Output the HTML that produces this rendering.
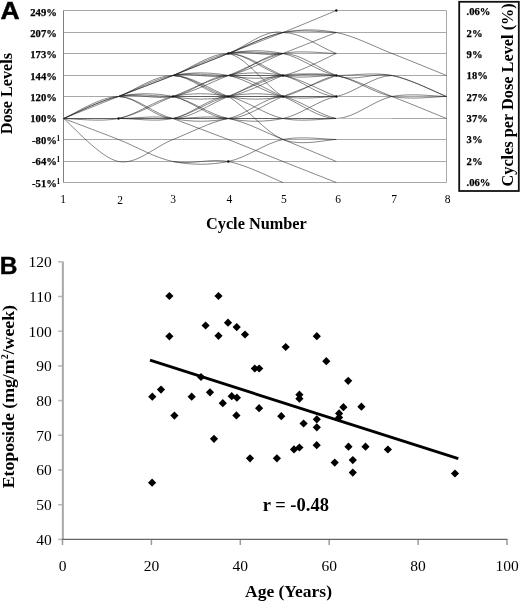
<!DOCTYPE html>
<html><head><meta charset="utf-8"><style>
html,body{margin:0;padding:0;background:#fff;}
body{width:520px;height:602px;overflow:hidden;position:relative;}
svg{position:absolute;left:0;top:0;will-change:transform;}
</style></head><body>
<svg width="520" height="602" viewBox="0 0 520 602">
<rect width="520" height="602" fill="#fff"/>
<line x1="63.5" y1="10.5" x2="446.5" y2="10.5" stroke="#a8a8a8" stroke-width="1"/>
<line x1="63.5" y1="32.5" x2="446.5" y2="32.5" stroke="#a8a8a8" stroke-width="1"/>
<line x1="63.5" y1="53.5" x2="446.5" y2="53.5" stroke="#a8a8a8" stroke-width="1"/>
<line x1="63.5" y1="75.5" x2="446.5" y2="75.5" stroke="#a8a8a8" stroke-width="1"/>
<line x1="63.5" y1="96.5" x2="446.5" y2="96.5" stroke="#a8a8a8" stroke-width="1"/>
<line x1="63.5" y1="118.5" x2="446.5" y2="118.5" stroke="#a8a8a8" stroke-width="1"/>
<line x1="63.5" y1="139.5" x2="446.5" y2="139.5" stroke="#a8a8a8" stroke-width="1"/>
<line x1="63.5" y1="161.5" x2="446.5" y2="161.5" stroke="#a8a8a8" stroke-width="1"/>
<line x1="63.5" y1="182.5" x2="446.5" y2="182.5" stroke="#a8a8a8" stroke-width="1"/>
<line x1="63.5" y1="10.5" x2="63.5" y2="182.5" stroke="#808080" stroke-width="1"/>
<line x1="446.5" y1="10.5" x2="446.5" y2="182.5" stroke="#a8a8a8" stroke-width="1"/>
<path d="M63.50 118.50 C72.67 114.83 100.25 103.67 118.50 96.50 M63.50 118.50 C72.67 114.83 100.25 100.17 118.50 96.50 M63.50 118.50 C72.67 114.83 100.25 100.17 118.50 96.50 M63.50 118.50 C72.67 114.83 100.25 96.50 118.50 96.50 M63.50 118.50 C72.67 118.50 100.25 122.17 118.50 118.50 M63.50 118.50 C72.67 118.50 100.25 118.50 118.50 118.50 M63.50 118.50 C72.67 122.00 100.25 132.33 118.50 139.50 M63.50 118.50 C72.67 125.67 100.25 158.00 118.50 161.50 M118.50 96.50 C136.75 89.33 154.70 82.67 173.00 75.50 M118.50 96.50 C136.75 89.33 154.70 82.67 173.00 75.50 M118.50 96.50 C136.75 89.33 154.70 79.00 173.00 75.50 M118.50 96.50 C136.75 89.33 154.70 75.50 173.00 75.50 M118.50 96.50 C136.75 92.83 154.70 100.00 173.00 96.50 M118.50 96.50 C136.75 92.83 154.70 96.50 173.00 96.50 M118.50 96.50 C136.75 92.83 154.70 92.83 173.00 96.50 M118.50 96.50 C136.75 96.50 154.70 118.50 173.00 118.50 M118.50 96.50 C136.75 96.50 154.70 114.83 173.00 118.50 M118.50 118.50 C136.75 114.83 154.70 103.67 173.00 96.50 M118.50 118.50 C136.75 114.83 154.70 100.17 173.00 96.50 M118.50 118.50 C136.75 118.50 154.70 122.17 173.00 118.50 M118.50 118.50 C136.75 118.50 154.70 118.50 173.00 118.50 M118.50 118.50 C136.75 118.50 154.70 115.00 173.00 118.50 M118.50 139.50 C136.75 146.67 154.70 157.83 173.00 161.50 M118.50 161.50 C136.75 165.00 154.70 146.67 173.00 139.50 M173.00 75.50 C191.30 68.33 209.97 60.67 228.30 53.50 M173.00 75.50 C191.30 68.33 209.97 60.67 228.30 53.50 M173.00 75.50 C191.30 68.33 209.97 57.17 228.30 53.50 M173.00 75.50 C191.30 68.33 209.97 53.50 228.30 53.50 M173.00 75.50 C191.30 72.00 209.97 79.17 228.30 75.50 M173.00 75.50 C191.30 72.00 209.97 75.50 228.30 75.50 M173.00 75.50 C191.30 72.00 209.97 72.00 228.30 75.50 M173.00 75.50 C191.30 75.50 209.97 96.50 228.30 96.50 M173.00 75.50 C191.30 75.50 209.97 93.00 228.30 96.50 M173.00 75.50 C191.30 75.50 209.97 89.33 228.30 96.50 M173.00 96.50 C191.30 93.00 209.97 82.67 228.30 75.50 M173.00 96.50 C191.30 89.33 209.97 79.00 228.30 75.50 M173.00 96.50 C191.30 93.00 209.97 75.50 228.30 75.50 M173.00 96.50 C191.30 100.00 209.97 100.00 228.30 96.50 M173.00 96.50 C191.30 96.50 209.97 96.50 228.30 96.50 M173.00 96.50 C191.30 92.83 209.97 92.83 228.30 96.50 M173.00 96.50 C191.30 100.17 209.97 118.50 228.30 118.50 M173.00 96.50 C191.30 100.17 209.97 114.83 228.30 118.50 M173.00 118.50 C191.30 118.50 209.97 103.67 228.30 96.50 M173.00 118.50 C191.30 114.83 209.97 100.17 228.30 96.50 M173.00 118.50 C191.30 114.83 209.97 96.50 228.30 96.50 M173.00 118.50 C191.30 122.17 209.97 122.17 228.30 118.50 M173.00 118.50 C191.30 118.50 209.97 118.50 228.30 118.50 M173.00 118.50 C191.30 118.50 209.97 115.00 228.30 118.50 M173.00 118.50 C191.30 125.67 209.97 132.33 228.30 139.50 M173.00 139.50 C191.30 132.33 209.97 122.00 228.30 118.50 M173.00 161.50 C191.30 165.17 209.97 165.17 228.30 161.50 M173.00 161.50 C191.30 165.17 209.97 158.00 228.30 161.50 M228.30 53.50 C246.63 46.33 265.00 39.67 283.00 32.50 M228.30 53.50 C246.63 46.33 265.00 36.00 283.00 32.50 M228.30 53.50 C246.63 46.33 265.00 36.00 283.00 32.50 M228.30 53.50 C246.63 46.33 265.00 28.83 283.00 32.50 M228.30 53.50 C246.63 49.83 265.00 57.00 283.00 53.50 M228.30 53.50 C246.63 49.83 265.00 53.50 283.00 53.50 M228.30 53.50 C246.63 49.83 265.00 49.83 283.00 53.50 M228.30 53.50 C246.63 53.50 265.00 71.83 283.00 75.50 M228.30 53.50 C246.63 53.50 265.00 68.33 283.00 75.50 M228.30 53.50 C246.63 57.00 265.00 85.67 283.00 96.50 M228.30 75.50 C246.63 71.83 265.00 60.67 283.00 53.50 M228.30 75.50 C246.63 68.33 265.00 57.17 283.00 53.50 M228.30 75.50 C246.63 71.83 265.00 53.50 283.00 53.50 M228.30 75.50 C246.63 79.17 265.00 79.17 283.00 75.50 M228.30 75.50 C246.63 75.50 265.00 75.50 283.00 75.50 M228.30 75.50 C246.63 72.00 265.00 72.00 283.00 75.50 M228.30 75.50 C246.63 79.00 265.00 93.00 283.00 96.50 M228.30 75.50 C246.63 75.50 265.00 89.33 283.00 96.50 M228.30 96.50 C246.63 93.00 265.00 82.67 283.00 75.50 M228.30 96.50 C246.63 89.33 265.00 79.00 283.00 75.50 M228.30 96.50 C246.63 89.33 265.00 75.50 283.00 75.50 M228.30 96.50 C246.63 100.00 265.00 100.00 283.00 96.50 M228.30 96.50 C246.63 96.50 265.00 96.50 283.00 96.50 M228.30 96.50 C246.63 92.83 265.00 92.83 283.00 96.50 M228.30 96.50 C246.63 100.17 265.00 114.83 283.00 118.50 M228.30 96.50 C246.63 107.17 265.00 132.33 283.00 139.50 M228.30 118.50 C246.63 118.50 265.00 103.67 283.00 96.50 M228.30 118.50 C246.63 114.83 265.00 96.50 283.00 96.50 M228.30 118.50 C246.63 122.17 265.00 122.17 283.00 118.50 M228.30 118.50 C246.63 118.50 265.00 118.50 283.00 118.50 M228.30 118.50 C246.63 122.00 265.00 132.33 283.00 139.50 M228.30 139.50 C246.63 146.67 265.00 154.33 283.00 161.50 M228.30 161.50 C246.63 157.83 265.00 143.17 283.00 139.50 M228.30 161.50 C246.63 165.00 273.88 179.00 283.00 182.50 M283.00 32.50 C301.00 25.33 327.42 14.17 336.30 10.50 M283.00 32.50 C301.00 29.00 318.13 29.00 336.30 32.50 M283.00 32.50 C301.00 29.00 327.42 32.50 336.30 32.50 M283.00 32.50 C301.00 32.50 318.13 46.33 336.30 53.50 M283.00 53.50 C301.00 46.33 327.42 36.00 336.30 32.50 M283.00 53.50 C301.00 49.83 327.42 53.50 336.30 53.50 M283.00 53.50 C301.00 57.17 318.13 71.83 336.30 75.50 M283.00 53.50 C301.00 53.50 318.13 68.33 336.30 75.50 M283.00 75.50 C301.00 71.83 327.42 57.17 336.30 53.50 M283.00 75.50 C301.00 79.17 318.13 75.50 336.30 75.50 M283.00 75.50 C301.00 75.50 318.13 72.00 336.30 75.50 M283.00 75.50 C301.00 72.00 327.42 75.50 336.30 75.50 M283.00 75.50 C301.00 79.00 318.13 96.50 336.30 96.50 M283.00 75.50 C301.00 79.00 318.13 89.33 336.30 96.50 M283.00 96.50 C301.00 93.00 318.13 79.00 336.30 75.50 M283.00 96.50 C301.00 89.33 327.42 79.00 336.30 75.50 M283.00 96.50 C301.00 100.00 327.42 96.50 336.30 96.50 M283.00 96.50 C301.00 96.50 327.42 96.50 336.30 96.50 M283.00 96.50 C301.00 103.67 318.13 118.50 336.30 118.50 M283.00 96.50 C301.00 100.17 318.13 114.83 336.30 118.50 M283.00 118.50 C301.00 114.83 318.13 100.17 336.30 96.50 M283.00 118.50 C301.00 122.17 327.42 118.50 336.30 118.50 M283.00 118.50 C301.00 118.50 327.42 118.50 336.30 118.50 M283.00 139.50 C301.00 146.67 327.42 139.50 336.30 139.50 M283.00 139.50 C301.00 135.83 327.42 139.50 336.30 139.50 M283.00 139.50 C301.00 146.67 327.42 157.83 336.30 161.50 M283.00 161.50 C301.00 168.67 327.42 179.00 336.30 182.50 M336.30 32.50 C354.47 36.00 373.63 46.33 392.00 53.50 M336.30 75.50 C354.47 82.67 373.63 72.00 392.00 75.50 M336.30 75.50 C354.47 75.50 373.63 72.00 392.00 75.50 M336.30 75.50 C354.47 79.00 373.63 93.00 392.00 96.50 M336.30 75.50 C354.47 79.00 373.63 89.33 392.00 96.50 M336.30 96.50 C354.47 93.00 373.63 75.50 392.00 75.50 M336.30 118.50 C354.47 118.50 373.63 100.17 392.00 96.50 M392.00 53.50 C410.37 60.67 437.42 71.83 446.50 75.50 M392.00 75.50 C410.37 79.00 437.42 93.00 446.50 96.50 M392.00 75.50 C410.37 79.00 437.42 93.00 446.50 96.50 M392.00 96.50 C410.37 100.00 437.42 96.50 446.50 96.50 M392.00 96.50 C410.37 92.83 437.42 96.50 446.50 96.50 M392.00 96.50 C410.37 103.67 437.42 114.83 446.50 118.50" fill="none" stroke="#222" stroke-width="0.55"/>
<line x1="336.3" y1="118.5" x2="392.0" y2="118.5" stroke="#bbb" stroke-width="1.2"/>
<circle cx="118.5" cy="118.5" r="1.2" fill="#111"/>
<circle cx="173.0" cy="96.5" r="1.2" fill="#111"/>
<circle cx="228.3" cy="53.5" r="1.2" fill="#111"/>
<circle cx="228.3" cy="96.5" r="1.2" fill="#111"/>
<circle cx="228.3" cy="161.5" r="1.2" fill="#111"/>
<circle cx="283.0" cy="75.5" r="1.2" fill="#111"/>
<circle cx="283.0" cy="96.5" r="1.2" fill="#111"/>
<circle cx="336.3" cy="10.5" r="1.2" fill="#111"/>
<circle cx="336.3" cy="75.5" r="1.2" fill="#111"/>
<circle cx="336.3" cy="96.5" r="1.2" fill="#111"/>
<text x="56.8" y="16.0" text-anchor="end" font-family='"Liberation Serif", serif' font-weight="bold" font-size="10.6" stroke="#000" stroke-width="0.25">249%</text>
<text x="56.8" y="36.7" text-anchor="end" font-family='"Liberation Serif", serif' font-weight="bold" font-size="10.6" stroke="#000" stroke-width="0.25">207%</text>
<text x="56.8" y="58.4" text-anchor="end" font-family='"Liberation Serif", serif' font-weight="bold" font-size="10.6" stroke="#000" stroke-width="0.25">173%</text>
<text x="56.8" y="79.9" text-anchor="end" font-family='"Liberation Serif", serif' font-weight="bold" font-size="10.6" stroke="#000" stroke-width="0.25">144%</text>
<text x="56.8" y="100.5" text-anchor="end" font-family='"Liberation Serif", serif' font-weight="bold" font-size="10.6" stroke="#000" stroke-width="0.25">120%</text>
<text x="56.8" y="122.4" text-anchor="end" font-family='"Liberation Serif", serif' font-weight="bold" font-size="10.6" stroke="#000" stroke-width="0.25">100%</text>
<text x="56.8" y="144.2" text-anchor="end" font-family='"Liberation Serif", serif' font-weight="bold" font-size="10.6" stroke="#000" stroke-width="0.25">-80%</text>
<text x="56.6" y="141.0" font-family='"Liberation Serif", serif' font-weight="bold" font-size="7.2">1</text>
<text x="56.8" y="165.2" text-anchor="end" font-family='"Liberation Serif", serif' font-weight="bold" font-size="10.6" stroke="#000" stroke-width="0.25">-64%</text>
<text x="56.6" y="162.0" font-family='"Liberation Serif", serif' font-weight="bold" font-size="7.2">1</text>
<text x="56.8" y="186.7" text-anchor="end" font-family='"Liberation Serif", serif' font-weight="bold" font-size="10.6" stroke="#000" stroke-width="0.25">-51%</text>
<text x="56.6" y="183.5" font-family='"Liberation Serif", serif' font-weight="bold" font-size="7.2">1</text>
<text x="63.2" y="202.6" text-anchor="middle" font-family='"Liberation Serif", serif' font-size="11.5">1</text>
<text x="120" y="204.2" text-anchor="middle" font-family='"Liberation Serif", serif' font-size="11.5">2</text>
<text x="173.2" y="202.6" text-anchor="middle" font-family='"Liberation Serif", serif' font-size="11.5">3</text>
<text x="229.3" y="202.6" text-anchor="middle" font-family='"Liberation Serif", serif' font-size="11.5">4</text>
<text x="283.8" y="202.6" text-anchor="middle" font-family='"Liberation Serif", serif' font-size="11.5">5</text>
<text x="338.1" y="202.6" text-anchor="middle" font-family='"Liberation Serif", serif' font-size="11.5">6</text>
<text x="394.2" y="202.6" text-anchor="middle" font-family='"Liberation Serif", serif' font-size="11.5">7</text>
<text x="447.5" y="202.6" text-anchor="middle" font-family='"Liberation Serif", serif' font-size="11.5">8</text>
<text x="206" y="228.7" font-family='"Liberation Serif", serif' font-weight="bold" font-size="16.3">Cycle Number</text>
<text transform="translate(12.1 134.3) rotate(-90)" font-family='"Liberation Serif", serif' font-weight="bold" font-size="16.2">Dose Levels</text>
<text transform="translate(0.6 18.7) scale(1.08 1)" font-family='"Liberation Sans", sans-serif' font-weight="bold" font-size="24.5" stroke="#000" stroke-width="0.5">A</text>
<rect x="459.2" y="1.8" width="59.6" height="189.2" fill="none" stroke="#111" stroke-width="1.8"/>
<text x="466.6" y="15.2" font-family='"Liberation Serif", serif' font-weight="bold" font-size="10.6" stroke="#000" stroke-width="0.25">.06%</text>
<text x="466.6" y="36.6" font-family='"Liberation Serif", serif' font-weight="bold" font-size="10.6" stroke="#000" stroke-width="0.25">2%</text>
<text x="466.6" y="57.9" font-family='"Liberation Serif", serif' font-weight="bold" font-size="10.6" stroke="#000" stroke-width="0.25">9%</text>
<text x="466.6" y="79.3" font-family='"Liberation Serif", serif' font-weight="bold" font-size="10.6" stroke="#000" stroke-width="0.25">18%</text>
<text x="466.6" y="100.6" font-family='"Liberation Serif", serif' font-weight="bold" font-size="10.6" stroke="#000" stroke-width="0.25">27%</text>
<text x="466.6" y="122.0" font-family='"Liberation Serif", serif' font-weight="bold" font-size="10.6" stroke="#000" stroke-width="0.25">37%</text>
<text x="466.6" y="143.4" font-family='"Liberation Serif", serif' font-weight="bold" font-size="10.6" stroke="#000" stroke-width="0.25">3%</text>
<text x="466.6" y="164.7" font-family='"Liberation Serif", serif' font-weight="bold" font-size="10.6" stroke="#000" stroke-width="0.25">2%</text>
<text x="466.6" y="186.1" font-family='"Liberation Serif", serif' font-weight="bold" font-size="10.6" stroke="#000" stroke-width="0.25">.06%</text>
<text transform="translate(512.6 186.5) rotate(-90)" font-family='"Liberation Serif", serif' font-weight="bold" font-size="16.3">Cycles per Dose Level (%)</text>
<line x1="62.85" y1="261.5" x2="62.85" y2="539.4" stroke="#a8a8a8" stroke-width="2"/>
<line x1="61.8" y1="539.4" x2="507.6" y2="539.4" stroke="#666" stroke-width="1.4"/>
<line x1="58.2" y1="539.4" x2="62" y2="539.4" stroke="#b5b5b5" stroke-width="1.5"/>
<text x="51.8" y="544.7" text-anchor="end" font-family='"Liberation Serif", serif' font-size="15.5">40</text>
<line x1="58.2" y1="504.7" x2="62" y2="504.7" stroke="#b5b5b5" stroke-width="1.5"/>
<text x="51.8" y="510.0" text-anchor="end" font-family='"Liberation Serif", serif' font-size="15.5">50</text>
<line x1="58.2" y1="470.0" x2="62" y2="470.0" stroke="#b5b5b5" stroke-width="1.5"/>
<text x="51.8" y="475.3" text-anchor="end" font-family='"Liberation Serif", serif' font-size="15.5">60</text>
<line x1="58.2" y1="435.3" x2="62" y2="435.3" stroke="#b5b5b5" stroke-width="1.5"/>
<text x="51.8" y="440.6" text-anchor="end" font-family='"Liberation Serif", serif' font-size="15.5">70</text>
<line x1="58.2" y1="400.6" x2="62" y2="400.6" stroke="#b5b5b5" stroke-width="1.5"/>
<text x="51.8" y="405.9" text-anchor="end" font-family='"Liberation Serif", serif' font-size="15.5">80</text>
<line x1="58.2" y1="365.9" x2="62" y2="365.9" stroke="#b5b5b5" stroke-width="1.5"/>
<text x="51.8" y="371.2" text-anchor="end" font-family='"Liberation Serif", serif' font-size="15.5">90</text>
<line x1="58.2" y1="331.2" x2="62" y2="331.2" stroke="#b5b5b5" stroke-width="1.5"/>
<text x="51.8" y="336.5" text-anchor="end" font-family='"Liberation Serif", serif' font-size="15.5">100</text>
<line x1="58.2" y1="296.5" x2="62" y2="296.5" stroke="#b5b5b5" stroke-width="1.5"/>
<text x="51.8" y="301.8" text-anchor="end" font-family='"Liberation Serif", serif' font-size="15.5">110</text>
<line x1="58.2" y1="261.8" x2="62" y2="261.8" stroke="#b5b5b5" stroke-width="1.5"/>
<text x="51.8" y="267.1" text-anchor="end" font-family='"Liberation Serif", serif' font-size="15.5">120</text>
<line x1="62.5" y1="540.1" x2="62.5" y2="545" stroke="#999" stroke-width="1.5"/>
<text x="62.5" y="570.6" text-anchor="middle" font-family='"Liberation Serif", serif' font-size="15.5">0</text>
<line x1="151.4" y1="540.1" x2="151.4" y2="545" stroke="#999" stroke-width="1.5"/>
<text x="151.4" y="570.6" text-anchor="middle" font-family='"Liberation Serif", serif' font-size="15.5">20</text>
<line x1="240.3" y1="540.1" x2="240.3" y2="545" stroke="#999" stroke-width="1.5"/>
<text x="240.3" y="570.6" text-anchor="middle" font-family='"Liberation Serif", serif' font-size="15.5">40</text>
<line x1="329.2" y1="540.1" x2="329.2" y2="545" stroke="#999" stroke-width="1.5"/>
<text x="329.2" y="570.6" text-anchor="middle" font-family='"Liberation Serif", serif' font-size="15.5">60</text>
<line x1="418.1" y1="540.1" x2="418.1" y2="545" stroke="#999" stroke-width="1.5"/>
<text x="418.1" y="570.6" text-anchor="middle" font-family='"Liberation Serif", serif' font-size="15.5">80</text>
<line x1="507.0" y1="540.1" x2="507.0" y2="545" stroke="#999" stroke-width="1.5"/>
<text x="507.0" y="570.6" text-anchor="middle" font-family='"Liberation Serif", serif' font-size="15.5">100</text>
<text x="245" y="597" font-family='"Liberation Serif", serif' font-weight="bold" font-size="17.5">Age (Years)</text>
<text transform="translate(13.9 488.3) rotate(-90) scale(1 0.93)" font-family='"Liberation Serif", serif' font-weight="bold" font-size="17.8">Etoposide (mg/m<tspan font-size="10" dy="-6">2</tspan><tspan dy="6">/week)</tspan></text>
<text x="-0.3" y="274.3" font-family='"Liberation Sans", sans-serif' font-weight="bold" font-size="24.5" stroke="#000" stroke-width="0.4">B</text>
<text x="262.7" y="510.8" font-family='"Liberation Serif", serif' font-weight="bold" font-size="18.5">r = -0.48</text>
<line x1="150" y1="360.2" x2="458.3" y2="458.7" stroke="#000" stroke-width="2.8"/>
<path d="M169.4 291.9L173.5 296.0L169.4 300.1L165.3 296.0Z" fill="#000"/>
<path d="M218.5 291.9L222.6 296.0L218.5 300.1L214.4 296.0Z" fill="#000"/>
<path d="M205.6 321.4L209.7 325.5L205.6 329.6L201.5 325.5Z" fill="#000"/>
<path d="M228.0 318.6L232.1 322.7L228.0 326.8L223.9 322.7Z" fill="#000"/>
<path d="M236.7 323.0L240.8 327.1L236.7 331.2L232.6 327.1Z" fill="#000"/>
<path d="M169.4 332.2L173.5 336.3L169.4 340.4L165.3 336.3Z" fill="#000"/>
<path d="M218.5 331.7L222.6 335.8L218.5 339.9L214.4 335.8Z" fill="#000"/>
<path d="M245.0 330.4L249.1 334.5L245.0 338.6L240.9 334.5Z" fill="#000"/>
<path d="M285.7 342.9L289.8 347.0L285.7 351.1L281.6 347.0Z" fill="#000"/>
<path d="M316.8 332.1L320.9 336.2L316.8 340.3L312.7 336.2Z" fill="#000"/>
<path d="M326.3 357.1L330.4 361.2L326.3 365.3L322.2 361.2Z" fill="#000"/>
<path d="M254.8 364.4L258.9 368.5L254.8 372.6L250.7 368.5Z" fill="#000"/>
<path d="M259.2 364.4L263.3 368.5L259.2 372.6L255.1 368.5Z" fill="#000"/>
<path d="M201.0 372.9L205.1 377.0L201.0 381.1L196.9 377.0Z" fill="#000"/>
<path d="M152.3 392.6L156.4 396.7L152.3 400.8L148.2 396.7Z" fill="#000"/>
<path d="M161.0 385.5L165.1 389.6L161.0 393.7L156.9 389.6Z" fill="#000"/>
<path d="M191.7 392.6L195.8 396.7L191.7 400.8L187.6 396.7Z" fill="#000"/>
<path d="M210.0 388.2L214.1 392.3L210.0 396.4L205.9 392.3Z" fill="#000"/>
<path d="M222.8 399.1L226.9 403.2L222.8 407.3L218.7 403.2Z" fill="#000"/>
<path d="M231.7 392.1L235.8 396.2L231.7 400.3L227.6 396.2Z" fill="#000"/>
<path d="M236.9 393.6L241.0 397.7L236.9 401.8L232.8 397.7Z" fill="#000"/>
<path d="M174.4 411.5L178.5 415.6L174.4 419.7L170.3 415.6Z" fill="#000"/>
<path d="M236.4 411.3L240.5 415.4L236.4 419.5L232.3 415.4Z" fill="#000"/>
<path d="M259.1 404.1L263.2 408.2L259.1 412.3L255.0 408.2Z" fill="#000"/>
<path d="M281.3 412.1L285.4 416.2L281.3 420.3L277.2 416.2Z" fill="#000"/>
<path d="M299.4 390.6L303.5 394.7L299.4 398.8L295.3 394.7Z" fill="#000"/>
<path d="M299.4 394.6L303.5 398.7L299.4 402.8L295.3 398.7Z" fill="#000"/>
<path d="M348.2 376.7L352.3 380.8L348.2 384.9L344.1 380.8Z" fill="#000"/>
<path d="M343.4 403.1L347.5 407.2L343.4 411.3L339.3 407.2Z" fill="#000"/>
<path d="M361.4 402.6L365.5 406.7L361.4 410.8L357.3 406.7Z" fill="#000"/>
<path d="M339.1 409.3L343.2 413.4L339.1 417.5L335.0 413.4Z" fill="#000"/>
<path d="M339.1 413.4L343.2 417.5L339.1 421.6L335.0 417.5Z" fill="#000"/>
<path d="M303.6 419.4L307.7 423.5L303.6 427.6L299.5 423.5Z" fill="#000"/>
<path d="M316.8 415.2L320.9 419.3L316.8 423.4L312.7 419.3Z" fill="#000"/>
<path d="M316.8 423.2L320.9 427.3L316.8 431.4L312.7 427.3Z" fill="#000"/>
<path d="M316.7 441.1L320.8 445.2L316.7 449.3L312.6 445.2Z" fill="#000"/>
<path d="M348.5 442.6L352.6 446.7L348.5 450.8L344.4 446.7Z" fill="#000"/>
<path d="M365.5 442.6L369.6 446.7L365.5 450.8L361.4 446.7Z" fill="#000"/>
<path d="M387.9 445.4L392.0 449.5L387.9 453.6L383.8 449.5Z" fill="#000"/>
<path d="M334.7 458.5L338.8 462.6L334.7 466.7L330.6 462.6Z" fill="#000"/>
<path d="M352.8 456.0L356.9 460.1L352.8 464.2L348.7 460.1Z" fill="#000"/>
<path d="M352.8 468.5L356.9 472.6L352.8 476.7L348.7 472.6Z" fill="#000"/>
<path d="M214.0 434.7L218.1 438.8L214.0 442.9L209.9 438.8Z" fill="#000"/>
<path d="M294.0 445.3L298.1 449.4L294.0 453.5L289.9 449.4Z" fill="#000"/>
<path d="M299.4 443.4L303.5 447.5L299.4 451.6L295.3 447.5Z" fill="#000"/>
<path d="M250.0 454.2L254.1 458.3L250.0 462.4L245.9 458.3Z" fill="#000"/>
<path d="M276.9 454.2L281.0 458.3L276.9 462.4L272.8 458.3Z" fill="#000"/>
<path d="M152.1 478.6L156.2 482.7L152.1 486.8L148.0 482.7Z" fill="#000"/>
<path d="M455.0 469.4L459.1 473.5L455.0 477.6L450.9 473.5Z" fill="#000"/>
</svg>
</body></html>
